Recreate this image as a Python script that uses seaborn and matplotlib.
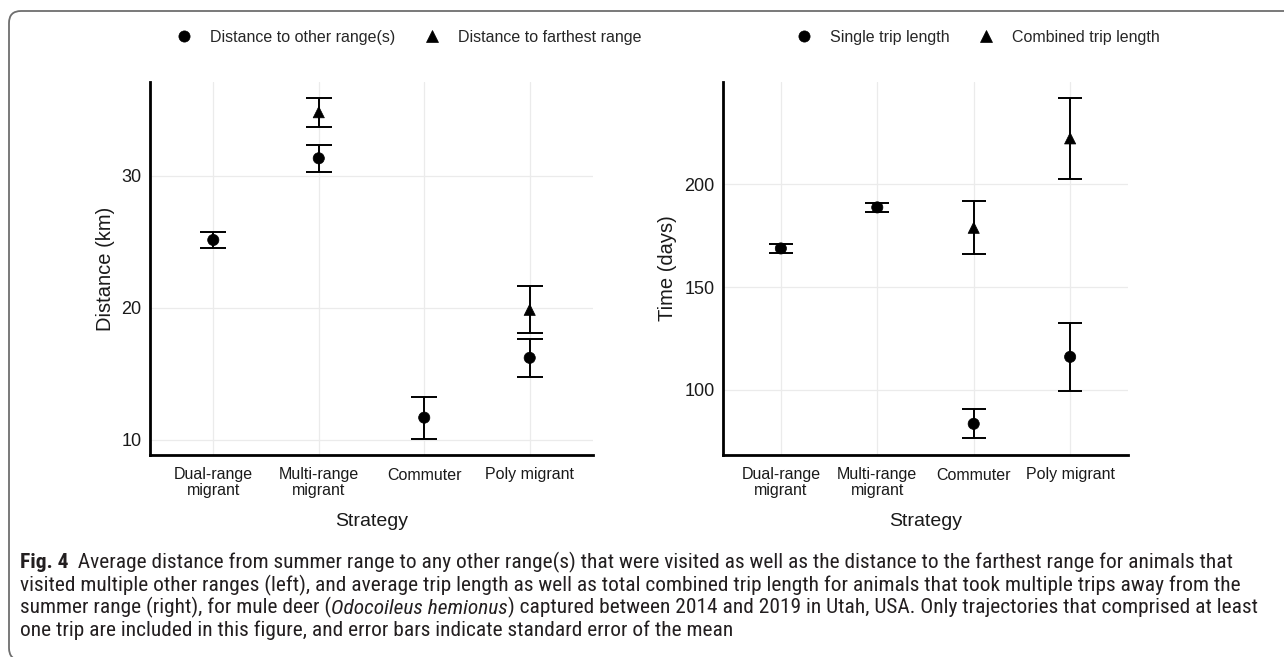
import numpy as np
import pandas as pd
import matplotlib
matplotlib.use("Agg")
import matplotlib.pyplot as plt
import seaborn as sns
from matplotlib.patches import FancyBboxPatch
from matplotlib.transforms import IdentityTransform
from matplotlib import font_manager

# ---------------- data ----------------
categories = ["Dual-range\nmigrant", "Multi-range\nmigrant", "Commuter", "Poly migrant"]

# left panel: distance (km)
dist_other_cats = ["Dual-range\nmigrant", "Multi-range\nmigrant", "Commuter", "Poly migrant"]
dist_other_mean = [25.15, 31.34, 11.69, 16.22]
dist_other_se = [0.63, 1.01, 1.59, 1.43]
dist_far_cats = ["Multi-range\nmigrant", "Poly migrant"]
dist_far_mean = [34.83, 19.86]
dist_far_se = [1.10, 1.78]

# right panel: time (days)
trip_single_cats = ["Dual-range\nmigrant", "Multi-range\nmigrant", "Commuter", "Poly migrant"]
trip_single_mean = [168.8, 188.75, 83.55, 116.1]
trip_single_se = [2.0, 2.35, 7.05, 16.6]
trip_comb_cats = ["Commuter", "Poly migrant"]
trip_comb_mean = [178.85, 222.3]
trip_comb_se = [12.85, 19.6]

left_labels = ["Distance to other range(s)", "Distance to farthest range"]
right_labels = ["Single trip length", "Combined trip length"]
left_yticks = [10, 20, 30]
right_yticks = [100, 150, 200]

caption_lines = [
    [("Fig. 4", "b"), ("  Average distance from summer range to any other range(s) that were visited as well as the distance to the farthest range for animals that", "n")],
    [("visited multiple other ranges (left), and average trip length as well as total combined trip length for animals that took multiple trips away from the", "n")],
    [("summer range (right), for mule deer (", "n"), ("Odocoileus hemionus", "i"), (") captured between 2014 and 2019 in Utah, USA. Only trajectories that comprised at least", "n")],
    [("one trip are included in this figure, and error bars indicate standard error of the mean", "n")],
]

# ---------------- style ----------------
sns.set_theme(style="whitegrid")
plt.rcParams['font.family'] = ['Liberation Sans', 'DejaVu Sans']

W, H = 1284, 657
fig = plt.figure(figsize=(W / 100, H / 100), dpi=100)
renderer = fig.canvas.get_renderer()


def px_axes(x0, x1, ytop, ybot):
    return fig.add_axes([x0 / W, 1 - ybot / H, (x1 - x0) / W, (ybot - ytop) / H])


axL = px_axes(150, 593, 82, 455)
axR = px_axes(723, 1128, 82, 455)


def panel(ax, ca, ma, sa, cb, mb, sb, labs, ylim, yticks, ylabel, leg_x):
    df = pd.DataFrame({
        "Strategy": list(ca) + list(cb),
        "value": list(ma) + list(mb),
        "se": list(sa) + list(sb),
        "Measure": [labs[0]] * len(ca) + [labs[1]] * len(cb),
    })
    df["Strategy"] = pd.Categorical(df["Strategy"], categories=categories)
    pos = df["Strategy"].cat.codes.to_numpy().astype(float)
    lo = (df["value"] - df["se"]).to_numpy()
    hi = (df["value"] + df["se"]).to_numpy()
    ax.vlines(pos, lo, hi, color="black", lw=1.4, zorder=3)
    ax.hlines(lo, pos - 0.125, pos + 0.125, color="black", lw=1.4, zorder=3)
    ax.hlines(hi, pos - 0.125, pos + 0.125, color="black", lw=1.4, zorder=3)
    sns.scatterplot(data=df, x="Strategy", y="value", style="Measure",
                    markers={labs[0]: "o", labs[1]: "^"}, style_order=labs,
                    color="black", edgecolor="black", linewidth=0.5, s=65,
                    ax=ax, zorder=4)
    ax.set_xlim(-0.6, len(categories) - 0.4)
    ax.set_ylim(*ylim)
    ax.set_yticks(yticks)
    ax.set_xticks(range(len(categories)))
    ax.set_xticklabels(categories, fontsize=11.5, linespacing=1.05)
    ax.tick_params(axis="y", labelsize=13, pad=2)
    ax.tick_params(axis="x", pad=5)
    ax.tick_params(axis="both", length=4, width=0.8, color="#8c8c8c", labelcolor="#1a1a1a")
    ax.set_xlabel("Strategy", fontsize=14, color="#1a1a1a", labelpad=11)
    ax.set_ylabel(ylabel, fontsize=14.5, color="#1a1a1a", labelpad=5)
    ax.grid(True, color="#ebebeb", lw=0.9)
    ax.set_axisbelow(True)
    for s in ["top", "right"]:
        ax.spines[s].set_visible(False)
    for s in ["left", "bottom"]:
        ax.spines[s].set_color("black")
        ax.spines[s].set_linewidth(2.0)
    ax.set_facecolor("white")
    sns.move_legend(ax, "center", bbox_to_anchor=(leg_x, 1.12), ncol=2, title=None,
                    frameon=False, fontsize=11.5, handletextpad=0.6, columnspacing=1.3,
                    markerscale=1.0)


panel(axL, dist_other_cats, dist_other_mean, dist_other_se,
      dist_far_cats, dist_far_mean, dist_far_se, left_labels,
      (8.86, 37.12), left_yticks, "Distance (km)", 0.575)
panel(axR, trip_single_cats, trip_single_mean, trip_single_se,
      trip_comb_cats, trip_comb_mean, trip_comb_se, right_labels,
      (68.4, 249.7), right_yticks, "Time (days)", 0.62)

# ---------------- border (pixel coordinates) ----------------
box = FancyBboxPatch((9, -3), 1360, H - 11 + 3,
                     boxstyle="round,pad=0,rounding_size=12",
                     transform=IdentityTransform(), fill=False, edgecolor="#6e6e6e",
                     lw=1.3, clip_on=False)
fig.patches.append(box)

# ---------------- caption ----------------
names = {f.name for f in font_manager.fontManager.ttflist}
candidates = [f for f in ["Liberation Sans Narrow", "Roboto Condensed", "Open Sans Condensed",
                          "Lato", "Roboto", "Noto Sans", "DejaVu Sans"] if f in names]


def line_width(parts, fs, fam):
    w = 0
    tmp = []
    for txt, st in parts:
        t = fig.text(0, 0, txt, fontsize=fs, family=[fam, "DejaVu Sans"],
                     fontweight="bold" if st == "b" else "normal",
                     fontstyle="italic" if st == "i" else "normal")
        w += t.get_window_extent(renderer).width
        tmp.append(t)
    for t in tmp:
        t.remove()
    return w


cap_family = min(candidates, key=lambda f: line_width(caption_lines[2], 10, f))
fs = 10.0 * 1232 / line_width(caption_lines[2], 10.0, cap_family)

baselines = [568.5, 591, 613.5, 636]
for parts, yb in zip(caption_lines, baselines):
    x = 20
    for txt, st in parts:
        t = fig.text(x / W, 1 - yb / H, txt, fontsize=fs, family=[cap_family, "DejaVu Sans"],
                     fontweight="bold" if st == "b" else "normal",
                     fontstyle="italic" if st == "i" else "normal",
                     va="baseline", ha="left", color="#231f20")
        x += t.get_window_extent(renderer).width

fig.savefig("out.png", dpi=100, facecolor="white")
